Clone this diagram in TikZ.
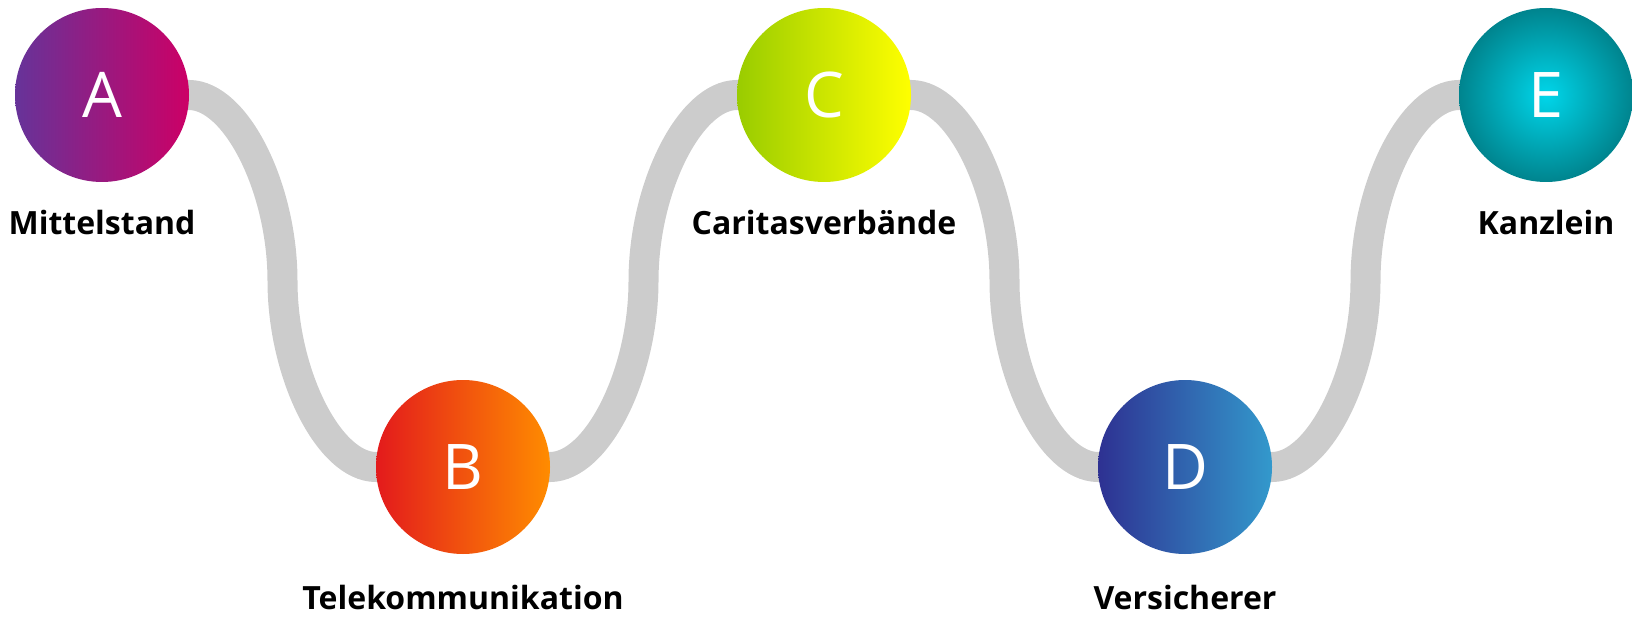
\documentclass[tikz,border=0pt]{standalone}
\usepackage{fontspec}
\setmainfont{Open Sans}
\begin{document}
\begin{tikzpicture}[x=1pt,y=-1pt,
  band/.style={line width=30pt,draw=bandgray},
  disc/.style={circle,minimum size=174pt,inner sep=0pt,text=white,font=\fontsize{63}{63}\selectfont},
  lbl/.style={anchor=base,font=\fontsize{32}{32}\selectfont\bfseries,text=black}]
\definecolor{bandgray}{HTML}{CCCCCC}
\definecolor{aL}{HTML}{663399}\definecolor{aR}{HTML}{CC0066}
\definecolor{bL}{HTML}{E31A1C}\definecolor{bR}{HTML}{FF8C00}
\definecolor{cL}{HTML}{99CC00}\definecolor{cR}{HTML}{FFFF00}
\definecolor{dL}{HTML}{2E3192}\definecolor{dR}{HTML}{3399CC}
\definecolor{eI}{HTML}{00D6EA}\definecolor{eO}{HTML}{00848E}
\useasboundingbox (0,0) rectangle (1632,617);
\coordinate (pA) at (102,95);
\coordinate (pB) at (463,467);
\coordinate (pC) at (824,95);
\coordinate (pD) at (1185,467);
\coordinate (pE) at (1546,95);
% band
\draw[band] (pA) -- (189,95) .. controls (236,95) and (282.5,188) .. (282.5,281) .. controls (282.5,374) and (329,467) .. (376,467)
  -- (pB) -- (550,467) .. controls (597,467) and (643.5,374) .. (643.5,281) .. controls (643.5,188) and (690,95) .. (737,95)
  -- (pC) -- (911,95) .. controls (958,95) and (1004.5,188) .. (1004.5,281) .. controls (1004.5,374) and (1051,467) .. (1098,467)
  -- (pD) -- (1272,467) .. controls (1319,467) and (1365.5,374) .. (1365.5,281) .. controls (1365.5,188) and (1412,95) .. (1459,95)
  -- (pE);
% discs
\shade[left color=aL,right color=aR] (pA) circle (87);
\shade[left color=bL,right color=bR] (pB) circle (87);
\shade[left color=cL,right color=cR] (pC) circle (87);
\shade[left color=dL,right color=dR] (pD) circle (87);
\shade[inner color=eI,outer color=eO] (pE) circle (87);
\node[disc] (A) at (pA) {A};
\node[disc] (B) at (pB) {B};
\node[disc] (C) at (pC) {C};
\node[disc] (D) at (pD) {D};
\node[disc] (E) at (pE) {E};
% labels
\node[lbl] (lA) at (102,235) {Mittelstand};
\node[lbl] (lB) at (463,609) {Telekommunikation};
\node[lbl] (lC) at (824,235) {Caritasverbände};
\node[lbl] (lD) at (1185,609) {Versicherer};
\node[lbl] (lE) at (1546,235) {Kanzlein};
\end{tikzpicture}
\end{document}
